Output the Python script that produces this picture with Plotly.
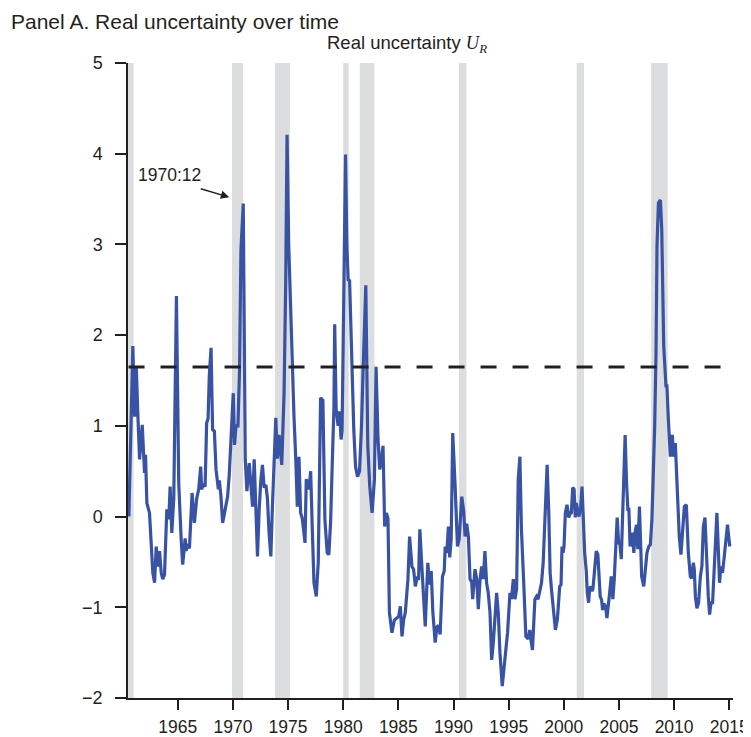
import plotly.graph_objects as go

# Real uncertainty U_R (decimal year, value)
years = [
 1960.57, 1960.93, 1961.09, 1961.24, 1961.39, 1961.54, 1961.78, 1961.90, 1961.99, 1962.08,
 1962.20, 1962.44, 1962.74, 1962.90, 1963.05, 1963.19, 1963.35, 1963.50, 1963.64, 1963.80,
 1964.01, 1964.19, 1964.31, 1964.46, 1964.64, 1964.88, 1965.09, 1965.31, 1965.45, 1965.67,
 1965.76, 1965.90, 1966.06, 1966.30, 1966.51, 1966.72, 1966.90, 1967.08, 1967.17, 1967.32,
 1967.48, 1967.62, 1967.75, 1967.86, 1968.02, 1968.16, 1968.32, 1968.47, 1968.68, 1968.77,
 1968.92, 1969.07, 1969.22, 1969.37, 1969.52, 1969.67, 1969.85, 1970.03, 1970.15, 1970.28,
 1970.46, 1970.60, 1970.73, 1970.94, 1971.12, 1971.27, 1971.48, 1971.63, 1971.78, 1971.93,
 1972.08, 1972.23, 1972.38, 1972.53, 1972.68, 1972.83, 1972.99, 1973.13, 1973.28, 1973.44,
 1973.58, 1973.74, 1973.89, 1974.03, 1974.19, 1974.43, 1974.64, 1974.79, 1974.91, 1975.06,
 1975.24, 1975.39, 1975.54, 1975.70, 1975.84, 1975.99, 1976.14, 1976.29, 1976.45, 1976.54,
 1976.65, 1976.74, 1976.90, 1977.05, 1977.19, 1977.35, 1977.56, 1977.74, 1977.95, 1978.16,
 1978.34, 1978.55, 1978.70, 1978.86, 1979.00, 1979.16, 1979.23, 1979.36, 1979.54, 1979.67,
 1979.81, 1979.90, 1980.06, 1980.21, 1980.33, 1980.45, 1980.58, 1980.76, 1980.81, 1980.96,
 1981.12, 1981.30, 1981.48, 1981.66, 1981.80, 1982.05, 1982.23, 1982.41, 1982.62, 1982.83,
 1982.98, 1983.16, 1983.31, 1983.46, 1983.61, 1983.76, 1983.91, 1984.06, 1984.19, 1984.42,
 1984.64, 1984.87, 1985.03, 1985.18, 1985.33, 1985.48, 1985.63, 1985.87, 1986.02, 1986.23,
 1986.38, 1986.54, 1986.72, 1986.83, 1986.95, 1987.13, 1987.28, 1987.44, 1987.67, 1987.83,
 1987.98, 1988.13, 1988.34, 1988.49, 1988.64, 1988.79, 1989.00, 1989.16, 1989.25, 1989.39,
 1989.54, 1989.66, 1989.79, 1989.93, 1990.15, 1990.36, 1990.51, 1990.75, 1990.93, 1991.05,
 1991.20, 1991.35, 1991.50, 1991.65, 1991.74, 1991.95, 1992.10, 1992.25, 1992.41, 1992.55,
 1992.70, 1992.85, 1993.00, 1993.15, 1993.31, 1993.46, 1993.61, 1993.76, 1993.91, 1994.06,
 1994.21, 1994.42, 1994.60, 1994.72, 1994.90, 1995.12, 1995.26, 1995.42, 1995.57, 1995.72,
 1995.87, 1996.02, 1996.16, 1996.38, 1996.56, 1996.77, 1996.92, 1997.01, 1997.16, 1997.38,
 1997.53, 1997.67, 1997.83, 1997.98, 1998.13, 1998.28, 1998.49, 1998.64, 1998.76, 1998.88,
 1999.03, 1999.24, 1999.42, 1999.54, 1999.63, 1999.75, 1999.84, 1999.93, 2000.02, 2000.14,
 2000.29, 2000.45, 2000.56, 2000.68, 2000.81, 2000.93, 2001.04, 2001.13, 2001.22, 2001.38,
 2001.53, 2001.65, 2001.77, 2001.89, 2002.04, 2002.13, 2002.25, 2002.34, 2002.44, 2002.55,
 2002.64, 2002.80, 2002.94, 2003.09, 2003.18, 2003.30, 2003.43, 2003.52, 2003.63, 2003.79,
 2003.91, 2004.06, 2004.15, 2004.30, 2004.45, 2004.57, 2004.72, 2004.84, 2004.97, 2005.09,
 2005.21, 2005.36, 2005.56, 2005.69, 2005.81, 2005.90, 2006.01, 2006.10, 2006.23, 2006.35,
 2006.46, 2006.59, 2006.71, 2006.86, 2006.95, 2007.06, 2007.25, 2007.40, 2007.54, 2007.70,
 2007.85, 2007.99, 2008.12, 2008.24, 2008.36, 2008.45, 2008.58, 2008.76, 2008.88, 2008.97,
 2009.06, 2009.26, 2009.35, 2009.48, 2009.66, 2009.84, 2009.96, 2010.11, 2010.32, 2010.47,
 2010.62, 2010.77, 2010.93, 2011.11, 2011.29, 2011.47, 2011.59, 2011.74, 2011.83, 2011.93,
 2012.07, 2012.22, 2012.38, 2012.52, 2012.65, 2012.80, 2012.92, 2013.10, 2013.22, 2013.34,
 2013.49, 2013.64, 2013.79, 2013.88, 2014.00, 2014.12, 2014.24, 2014.39, 2014.54, 2014.69,
 2014.84, 2014.93, 2015.05,
]
u_real = [
 0.00, 1.88, 1.10, 1.66, 1.10, 0.63, 1.01, 0.70, 0.48, 0.68,
 0.15, 0.04, -0.62, -0.73, -0.33, -0.55, -0.38, -0.62, -0.69, -0.64,
 0.08, -0.03, 0.33, -0.18, 0.20, 2.43, 0.37, -0.25, -0.53, -0.24,
 -0.38, -0.30, -0.35, 0.26, -0.07, 0.20, 0.30, 0.55, 0.30, 0.36,
 0.33, 1.03, 1.08, 1.55, 1.86, 0.96, 0.94, 0.52, 0.30, 0.40,
 0.22, -0.07, 0.03, 0.15, 0.22, 0.46, 0.94, 1.36, 0.79, 1.00,
 1.00, 1.60, 2.94, 3.45, 0.63, 0.28, 0.59, 0.39, 0.11, 0.63,
 0.11, -0.44, 0.07, 0.40, 0.57, 0.32, 0.35, 0.20, -0.18, -0.44,
 0.10, 0.66, 1.09, 0.64, 0.90, 0.57, 1.37, 2.60, 4.21, 3.00,
 2.20, 1.85, 1.10, 0.63, 0.11, 0.66, 0.04, -0.02, -0.25, -0.29,
 0.41, 0.38, 0.30, 0.50, -0.10, -0.73, -0.88, -0.50, 1.31, 1.28,
 -0.03, -0.40, -0.42, -0.05, 0.55, 1.20, 2.12, 1.18, 1.00, 1.16,
 0.85, 0.95, 2.50, 3.99, 3.00, 2.61, 2.60, 1.84, 1.40, 0.96,
 0.55, 0.44, 0.50, 1.00, 1.60, 2.55, 0.78, 0.33, 0.04, 0.41,
 1.65, 0.85, 0.52, 0.62, 0.78, -0.11, 0.04, -0.02, -1.06, -1.28,
 -1.14, -1.12, -1.10, -0.99, -1.32, -1.14, -1.06, -0.69, -0.22, -0.55,
 -0.58, -0.77, -0.66, -0.70, -0.14, -0.55, -0.84, -1.21, -0.51, -0.75,
 -0.60, -1.06, -1.39, -1.22, -1.20, -1.30, -0.66, -0.60, -0.33, -0.40,
 -0.11, -0.45, -0.25, 0.92, 0.33, -0.33, -0.25, 0.22, 0.05, -0.22,
 -0.08, -0.22, -0.69, -0.72, -0.91, -0.58, -0.69, -1.02, -0.69, -0.55,
 -0.69, -0.38, -0.73, -0.84, -1.06, -1.58, -1.39, -1.06, -0.84, -1.06,
 -1.50, -1.87, -1.65, -1.47, -1.28, -0.84, -0.91, -0.69, -0.91, -0.80,
 0.41, 0.66, -0.14, -0.77, -1.32, -1.35, -1.25, -1.35, -1.47, -0.91,
 -0.88, -0.91, -0.80, -0.73, -0.51, 0.04, 0.57, 0.04, -0.62, -0.80,
 -0.99, -1.25, -1.13, -0.91, -0.77, -0.75, -0.33, -0.40, -0.33, 0.04,
 0.13, -0.01, 0.04, 0.03, 0.32, 0.30, -0.01, 0.15, 0.08, 0.00,
 0.10, 0.33, -0.02, -0.40, -0.60, -0.84, -0.95, -0.80, -0.77, -0.82,
 -0.80, -0.55, -0.38, -0.42, -0.66, -0.88, -0.92, -1.03, -0.96, -0.99,
 -1.12, -0.99, -0.85, -0.66, -0.91, -0.70, -0.25, -0.01, -0.29, -0.30,
 -0.47, 0.04, 0.90, 0.37, 0.08, 0.08, -0.33, -0.22, -0.18, -0.40,
 -0.18, -0.09, -0.36, 0.11, -0.30, -0.66, -0.77, -0.58, -0.40, -0.33,
 -0.31, -0.03, 0.41, 1.00, 1.80, 2.98, 3.46, 3.49, 3.16, 2.50,
 1.88, 1.44, 1.44, 1.07, 0.66, 0.90, 0.66, 0.81, 0.22, -0.22,
 -0.42, -0.14, 0.11, 0.13, -0.40, -0.66, -0.68, -0.51, -0.58, -0.88,
 -1.01, -0.95, -0.66, -0.55, -0.11, -0.01, -0.44, -0.88, -1.08, -0.95,
 -0.95, -0.55, -0.18, 0.04, -0.33, -0.73, -0.55, -0.62, -0.45, -0.22,
 -0.09, -0.20, -0.33,
]

# NBER recessions (start, end) in decimal years
rec_start = [1960.33, 1969.92, 1973.83, 1980.00, 1981.50, 1990.50, 2001.17, 2007.92]
rec_end   = [1961.00, 1970.92, 1975.17, 1980.50, 1982.83, 1991.17, 2001.83, 2009.42]

threshold = 1.65
x_ticks = [1965, 1970, 1975, 1980, 1985, 1990, 1995, 2000, 2005, 2010, 2015]
y_ticks = [-2, -1, 0, 1, 2, 3, 4, 5]
y_tick_text = ["\u22122", "\u22121", "0", "1", "2", "3", "4", "5"]

X_MIN, X_MAX = 1960.49, 2015.34
FONT = "Liberation Sans, Arial, Helvetica, sans-serif"
SERIF = "Liberation Serif, Times New Roman, serif"
INK = "#231f20"
PW, PH = 605, 635
# the page body adds an 8px margin, so the figure is 8px smaller on each axis
W, H = 743, 729
ML, MT = 120, 55
MR = W - ML - PW
MB = H - MT - PH

fig = go.Figure()

shapes = []
for s, e in zip(rec_start, rec_end):
    shapes.append(dict(type="rect", xref="x", yref="y", x0=max(s, X_MIN), x1=e, y0=-2, y1=5,
                       fillcolor="#dcdddf", line=dict(width=0), layer="below"))
shapes.append(dict(type="line", xref="x", yref="y", x0=X_MIN + 0.05, x1=2014.3, y0=threshold, y1=threshold,
                   line=dict(color=INK, width=3, dash="16px,16px"), layer="above"))

fig.add_trace(go.Scatter(x=years, y=u_real, mode="lines",
                         line=dict(color="#3953a4", width=3.2), showlegend=False,
                         hoverinfo="skip"))

fig.update_layout(
    width=W, height=H,
    margin=dict(l=ML, r=MR, t=MT, b=MB, autoexpand=False),
    paper_bgcolor="white", plot_bgcolor="white",
    font=dict(family=FONT, size=18, color=INK),
    shapes=shapes,
    showlegend=False,
    xaxis=dict(range=[X_MIN, X_MAX], tickvals=x_ticks, ticktext=[str(t) for t in x_ticks],
               automargin=False,
               showgrid=False, zeroline=False, showline=True, linecolor=INK, linewidth=1.5,
               ticks="outside", ticklen=10, tickwidth=1.5, tickcolor=INK,
               ticklabelstandoff=2,
               tickfont=dict(size=17.5, color=INK, family=FONT)),
    yaxis=dict(range=[-2, 5], tickvals=y_ticks, ticktext=y_tick_text,
               automargin=False,
               showgrid=False, zeroline=False, showline=True, linecolor=INK, linewidth=1.5,
               ticks="outside", ticklen=11, tickwidth=1.5, tickcolor=INK,
               ticklabelstandoff=9,
               tickfont=dict(size=18, color=INK, family=FONT)),
    annotations=[
        dict(text="Panel A. Real uncertainty over time", xref="paper", yref="paper",
             x=-119.5/PW, y=1 + 42/PH, xanchor="left", yanchor="middle", showarrow=False,
             font=dict(size=21, color=INK, family=FONT)),
        dict(text="Real uncertainty <i><span style='font-family:%s'>U</span></i>"
                  "<sub><i><span style='font-family:%s'>R</span></i></sub>" % (SERIF, SERIF),
             xref="paper", yref="paper", x=(406.7 - 128) / PW, y=1 + 19/PH,
             xanchor="center", yanchor="middle", showarrow=False,
             font=dict(size=18.5, color=INK, family=FONT)),
        dict(text="1970:12", xref="x", yref="y", x=1964.25, y=3.77, showarrow=False,
             xanchor="center", yanchor="middle", font=dict(size=17.5, color=INK, family=FONT)),
        dict(text="", xref="x", yref="y", x=1969.67, y=3.52, ax=-30, ay=-9,
             showarrow=True, arrowhead=2, arrowsize=1.2, arrowwidth=1.4, arrowcolor=INK,
             standoff=0),
    ],
)

fig.write_html("out.html")
